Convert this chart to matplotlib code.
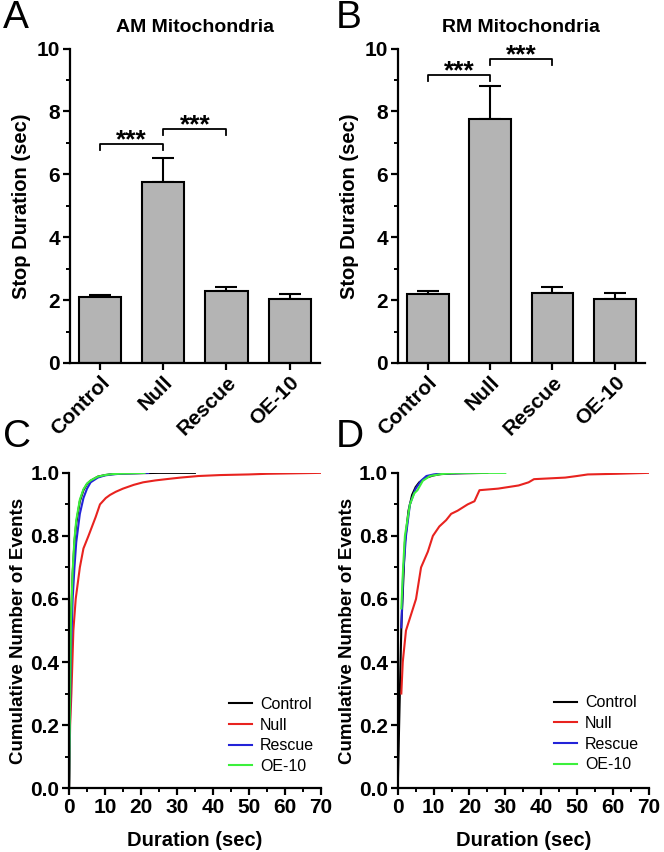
import numpy as np
import matplotlib
matplotlib.use('Agg')
import matplotlib.pyplot as plt
from matplotlib.ticker import MultipleLocator

plt.rcParams['font.family'] = ['Liberation Sans', 'DejaVu Sans']
plt.rcParams['axes.linewidth'] = 1.6

# bar chart data
groups = ['Control', 'Null', 'Rescue', 'OE-10']
am_mean = [2.1, 5.75, 2.3, 2.02]
am_sem = [0.07, 0.77, 0.13, 0.18]
rm_mean = [2.2, 7.75, 2.22, 2.02]
rm_sem = [0.08, 1.05, 0.2, 0.2]

# cumulative distributions, AM (panel C)
am_ctrl_x = [0, 0.5, 1, 1.5, 2, 3, 4, 5, 6, 8, 10, 12, 15, 20, 25, 35]
am_ctrl_y = [0, 0.5, 0.68, 0.78, 0.84, 0.91, 0.945, 0.965, 0.975, 0.988, 0.993, 0.996, 0.998, 0.999, 1.0, 1.0]
am_null_x = [0, 0.3, 0.65, 1.2, 1.85, 3, 4, 5.4, 7.4, 8.6, 10.2, 11.4, 13, 15, 18, 20.6, 24, 27, 31, 36, 42, 50, 55, 60, 70]
am_null_y = [0, 0.2, 0.3, 0.5, 0.6, 0.7, 0.76, 0.8, 0.86, 0.9, 0.92, 0.93, 0.94, 0.95, 0.962, 0.97, 0.976, 0.98, 0.985, 0.99, 0.993, 0.995, 0.997, 0.998, 1.0]
am_resc_x = [0, 0.5, 1, 1.5, 2, 3, 4, 5, 6, 8, 10, 12, 15, 22]
am_resc_y = [0, 0.42, 0.6, 0.7, 0.78, 0.87, 0.92, 0.95, 0.97, 0.985, 0.992, 0.995, 0.998, 1.0]
am_oe_x = [0, 0.5, 1, 1.5, 2, 3, 4, 5, 6, 8, 10, 12, 15, 21]
am_oe_y = [0, 0.52, 0.69, 0.79, 0.85, 0.915, 0.948, 0.966, 0.976, 0.988, 0.993, 0.996, 0.998, 1.0]

# cumulative distributions, RM (panel D)
rm_ctrl_x = [0, 1, 2, 3, 4, 5, 6, 8, 10, 12, 15, 20, 25]
rm_ctrl_y = [0, 0.51, 0.78, 0.88, 0.93, 0.955, 0.97, 0.985, 0.992, 0.996, 0.998, 0.999, 1.0]
rm_null_x = [1, 1.4, 2.3, 3.7, 5.1, 6.5, 8.4, 9.8, 11.6, 13.5, 14.9, 16.7, 19.5, 21.4, 22.8, 28, 33.7, 36.5, 38, 46.7, 50, 53, 61, 70]
rm_null_y = [0.3, 0.4, 0.5, 0.55, 0.6, 0.7, 0.75, 0.8, 0.83, 0.85, 0.87, 0.88, 0.9, 0.91, 0.945, 0.95, 0.96, 0.97, 0.98, 0.985, 0.99, 0.995, 0.997, 1.0]
rm_resc_x = [1, 1.5, 2.3, 3.4, 5, 6.5, 8, 10, 12, 15, 20]
rm_resc_y = [0.51, 0.68, 0.8, 0.9, 0.95, 0.975, 0.99, 0.995, 0.998, 0.999, 1.0]
rm_oe_x = [1, 1.5, 2, 3.4, 4.6, 5.5, 7, 9, 12, 16, 20, 30]
rm_oe_y = [0.57, 0.7, 0.8, 0.9, 0.935, 0.945, 0.975, 0.99, 0.996, 1.0, 1.0, 1.0]

line_colors = ['black', '#e8231f', '#2323d8', '#3cf03c']

fig = plt.figure(figsize=(6.64, 8.52), dpi=100)
axA = fig.add_axes([0.105, 0.574, 0.377, 0.369])
axB = fig.add_axes([0.599, 0.574, 0.372, 0.369])
axC = fig.add_axes([0.104, 0.075, 0.379, 0.370])
axD = fig.add_axes([0.599, 0.075, 0.378, 0.370])


def style(ax):
    ax.spines['top'].set_visible(False)
    ax.spines['right'].set_visible(False)
    ax.tick_params(direction='out', width=1.6, length=5, labelsize=15, pad=2)
    ax.tick_params(which='minor', direction='out', width=1.4, length=3)
    for lbl in ax.get_xticklabels() + ax.get_yticklabels():
        lbl.set_fontweight('bold')


def bar_panel(ax, means, sems, title, brackets):
    x = np.arange(len(groups))
    ax.bar(x, means, width=0.67, color='#b4b4b4', edgecolor='black', linewidth=1.5, zorder=2)
    ax.errorbar(x, means, yerr=[np.zeros(len(sems)), sems], fmt='none', ecolor='black',
                elinewidth=1.5, capsize=8, capthick=1.5, zorder=1)
    ax.set_xlim(-0.48, 3.48)
    ax.set_ylim(0, 10)
    ax.yaxis.set_major_locator(MultipleLocator(2))
    ax.yaxis.set_minor_locator(MultipleLocator(1))
    ax.set_xticks(x)
    ax.set_xticklabels(groups, rotation=45, ha='right', rotation_mode='anchor')
    ax.set_ylabel('Stop Duration (sec)', fontsize=14.5, fontweight='bold', labelpad=4)
    ax.set_title(title, fontsize=14, fontweight='bold', pad=12)
    style(ax)
    for x0, x1, yb in brackets:
        ax.plot([x0, x0, x1, x1], [yb - 0.2, yb, yb, yb - 0.2], color='black', lw=1.3)
        ax.text((x0 + x1) / 2, yb - 0.12, '***', ha='center', va='baseline',
                fontsize=19, fontweight='bold')


def cdf_panel(ax, series, legend_pos):
    for (xs, ys), name, col in zip(series, groups, line_colors):
        ax.plot(xs, ys, color=col, lw=1.5, label=name)
    ax.set_xlim(0, 70)
    ax.set_ylim(0, 1.0)
    ax.xaxis.set_major_locator(MultipleLocator(10))
    ax.xaxis.set_minor_locator(MultipleLocator(5))
    ax.yaxis.set_major_locator(MultipleLocator(0.2))
    ax.yaxis.set_minor_locator(MultipleLocator(0.1))
    ax.set_xlabel('Duration (sec)', fontsize=14.5, fontweight='bold', labelpad=10)
    ax.set_ylabel('Cumulative Number of Events', fontsize=13.5, fontweight='bold', labelpad=2)
    style(ax)
    ax.legend(frameon=False, fontsize=11.5, loc='lower right', bbox_to_anchor=legend_pos,
              handlelength=1.45, labelspacing=0.35, handletextpad=0.5)


bar_panel(axA, am_mean, am_sem, 'AM Mitochondria', [(0, 1, 6.98), (1, 2, 7.45)])
bar_panel(axB, rm_mean, rm_sem, 'RM Mitochondria', [(0, 1, 9.17), (1, 2, 9.68)])

cdf_panel(axC, [(am_ctrl_x, am_ctrl_y), (am_null_x, am_null_y),
                (am_resc_x, am_resc_y), (am_oe_x, am_oe_y)], (1.03, 0.0))
cdf_panel(axD, [(rm_ctrl_x, rm_ctrl_y), (rm_null_x, rm_null_y),
                (rm_resc_x, rm_resc_y), (rm_oe_x, rm_oe_y)], (1.02, 0.005))

# panel letters
for lx, ly, letter in [(0.005, 0.967, 'A'), (0.505, 0.967, 'B'),
                       (0.005, 0.475, 'C'), (0.505, 0.475, 'D')]:
    fig.text(lx, ly, letter, fontsize=28, ha='left', va='baseline')

fig.savefig('out.png', dpi=100)
